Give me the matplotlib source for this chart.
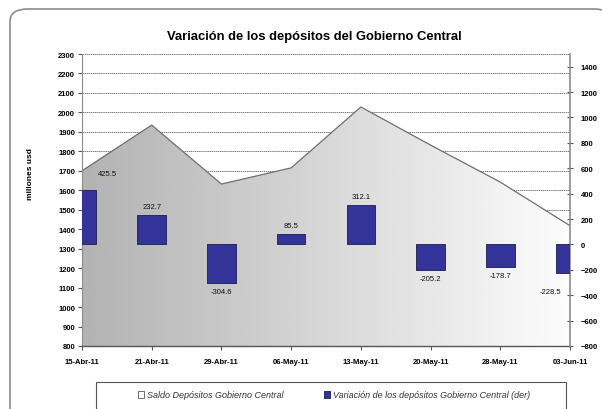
import numpy as np
import matplotlib
matplotlib.use("Agg")
import matplotlib.pyplot as plt
from matplotlib.patches import Patch, Rectangle, FancyBboxPatch

plt.rcParams['font.family'] = ['Liberation Sans', 'DejaVu Sans']

# data
fechas = ['15-Abr-11', '21-Abr-11', '29-Abr-11', '06-May-11',
          '13-May-11', '20-May-11', '28-May-11', '03-Jun-11']
saldo = [1700, 1935, 1632, 1715, 2028, 1832, 1642, 1418]
variacion = [425.5, 232.7, -304.6, 85.5, 312.1, -205.2, -178.7, -228.5]
etiquetas = ['425.5', '232.7', '-304.6', '85.5', '312.1', '-205.2', '-178.7', '-228.5']

W, H = 602, 410
fig = plt.figure(figsize=(W / 100, H / 100), dpi=100)

# outer rounded frame
frame = FancyBboxPatch((10 / W, -0.2), 1.0, 1.2 - 10 / H,
                       boxstyle="round,pad=0,rounding_size=0.03",
                       transform=fig.transFigure, facecolor='white',
                       edgecolor='#8c8c8c', lw=1.2, zorder=-10)
fig.patches.append(frame)

ax = fig.add_axes([82 / W, 1 - 347 / H, (570 - 82) / W, (347 - 55) / H])
ax.patch.set_alpha(0)
x = np.arange(len(fechas))

# gridlines behind the area
ax.set_ylim(800, 2300)
ax.set_xlim(0, len(fechas) - 1)
ax.set_yticks(np.arange(800, 2301, 100))
ax.yaxis.grid(True, color='#444444', linestyle=(0, (2, 1)), lw=0.5, zorder=0.5)
ax.set_axisbelow(True)

# area with horizontal gradient
poly = ax.fill_between(x, 800, saldo, facecolor='none', edgecolor='none')
grad = np.linspace(0.70, 0.99, 256).reshape(1, -1)
im = ax.imshow(grad, extent=[0, len(fechas) - 1, 800, 2300], aspect='auto',
               cmap='gray', vmin=0, vmax=1, zorder=1, interpolation='bicubic')
im.set_clip_path(poly.get_paths()[0], transform=ax.transData)
ax.plot(x, saldo, color='#6e6e6e', lw=0.9, zorder=2)

ax.set_xticks(x)
ax.set_xticklabels(fechas)
for lab in ax.get_xticklabels() + ax.get_yticklabels():
    lab.set_fontsize(5.5)
    lab.set_fontweight('bold')
ax.tick_params(axis='x', length=3, pad=6, color='#555555')
ax.tick_params(axis='y', length=3, pad=2, color='#555555', direction='out')
ax.spines['top'].set_visible(False)
ax.spines['right'].set_visible(False)
ax.spines['left'].set_color('#8c8c8c')
ax.spines['bottom'].set_color('#555555')
ax.spines['bottom'].set_linewidth(1.0)

# bars on the right axis
ax2 = ax.twinx()
ax2.set_ylim(-800, 1500)
ax2.set_yticks(np.arange(-800, 1401, 200))
bars = ax2.bar(x, variacion, width=0.41, color='#333399',
               edgecolor='#1c1c50', lw=0.6, zorder=3)
for lab in ax2.get_yticklabels():
    lab.set_fontsize(5.5)
    lab.set_fontweight('bold')
ax2.tick_params(axis='y', length=5, direction='inout', pad=5, color='#555555')
for s in ['top', 'left', 'bottom']:
    ax2.spines[s].set_visible(False)
ax2.spines['right'].set_color('#8c8c8c')
ax2.spines['right'].set_linewidth(1.2)

n = len(fechas)
for i, (v, t) in enumerate(zip(variacion, etiquetas)):
    dx = 0
    if i == 0:
        dx = 18
    elif i == n - 1:
        dx = -14
    dy = 6 if v >= 0 else -6
    if i == 0:
        dy = 12
    if i == n - 1:
        dy = -13
    ax2.annotate(t, (x[i], v), xytext=(dx, dy), textcoords='offset points',
                 ha='center', va='center', fontsize=5.5, color='#111111',
                 annotation_clip=False)

# title and axis label
fig.text(314 / W, 1 - 37 / H, 'Variación de los depósitos del Gobierno Central',
         ha='center', va='center', fontsize=9.4, fontweight='bold')
fig.text(31 / W, 1 - 174 / H, 'millones usd', rotation=90, ha='center',
         va='center', fontsize=6, fontweight='bold')

# legend box
fig.patches.append(Rectangle((96 / W, -0.05), (566 - 96) / W, 0.05 + (410 - 383) / H,
                             transform=fig.transFigure, facecolor='white',
                             edgecolor='#555555', lw=0.8, zorder=5))
handles = [Patch(facecolor='white', edgecolor='#555555', lw=0.6),
           Patch(facecolor='#333399', edgecolor='#1c1c50', lw=0.6)]
labels = ['Saldo Depósitos Gobierno Central',
          'Variación de los depósitos Gobierno Central (der)']
leg = fig.legend(handles, labels, loc='center', ncol=2, frameon=False,
                 bbox_to_anchor=(0.555, 1 - 396 / H),
                 prop={'style': 'italic', 'size': 6.5},
                 handlelength=0.7, handleheight=0.7, handletextpad=0.3,
                 columnspacing=4.5)
leg.set_zorder(6)
for t in leg.get_texts():
    t.set_color('#333333')

fig.savefig('out.png', dpi=100)
